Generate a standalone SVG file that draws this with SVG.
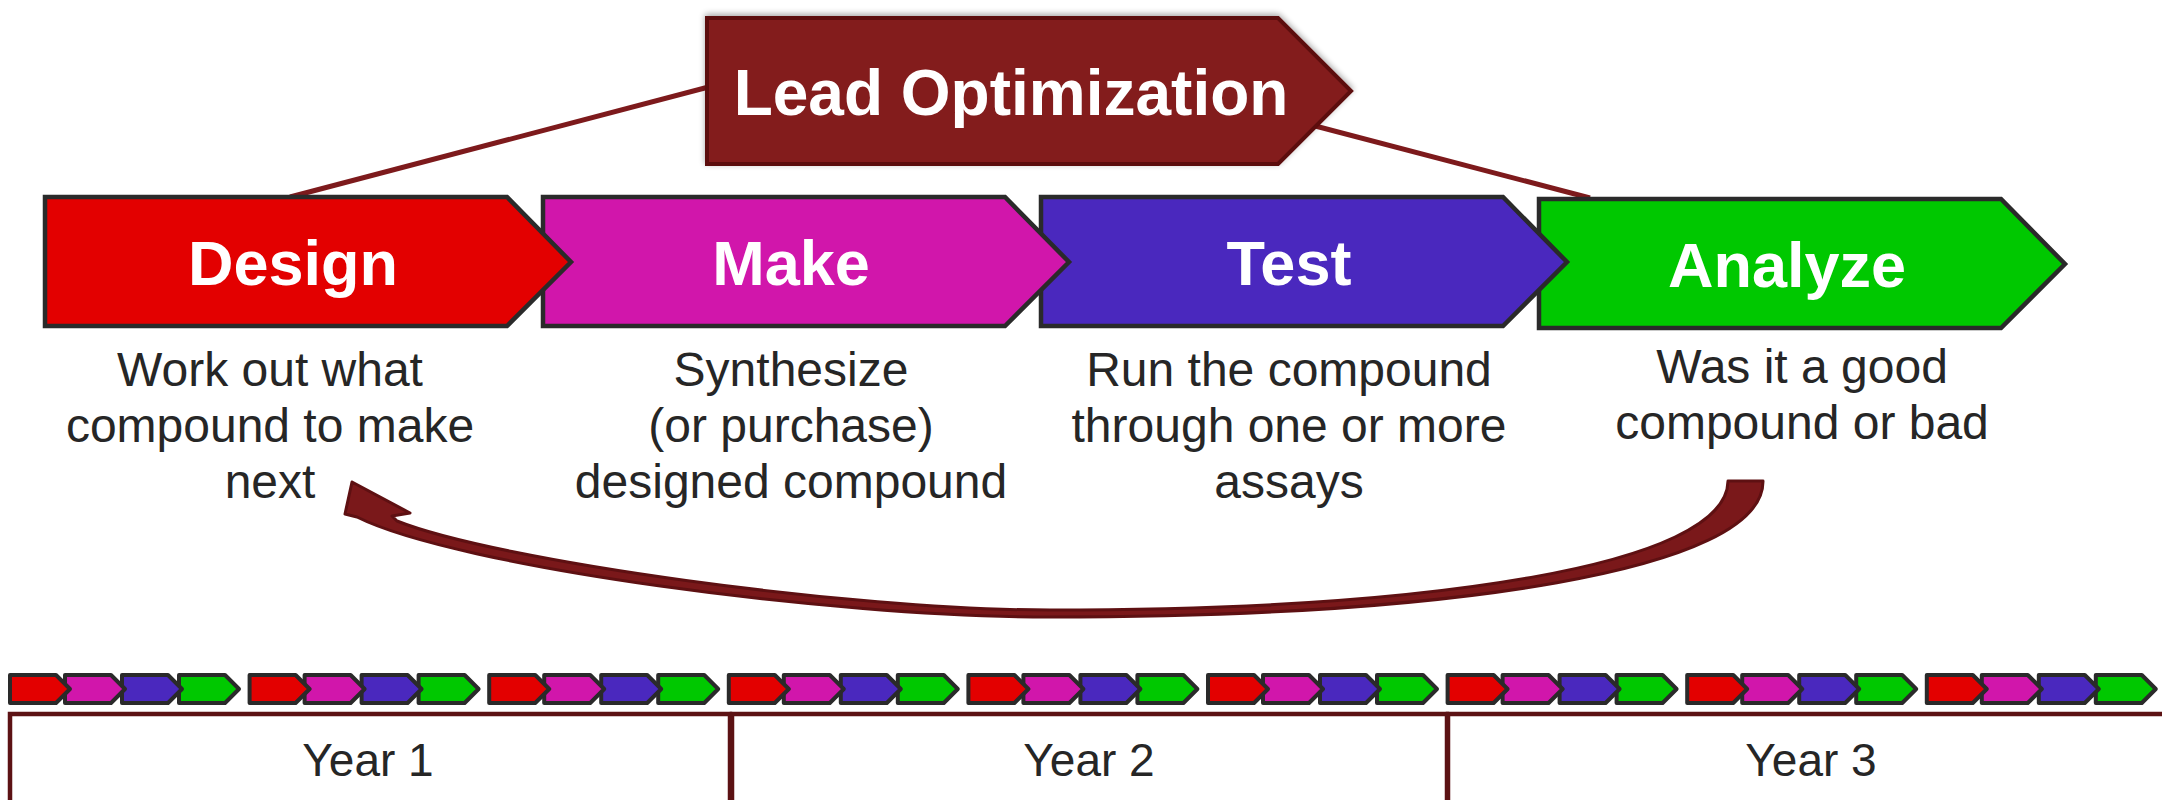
<svg xmlns="http://www.w3.org/2000/svg" xmlns:xlink="http://www.w3.org/1999/xlink" width="2162" height="800" viewBox="0 0 2162 800">
  <style>
    .stage { stroke: #2a2a2a; stroke-width: 4.5; stroke-linejoin: miter; }
    .mini { stroke: #2a2a2a; stroke-width: 4; stroke-linejoin: round; }
    .red { fill: #e30000; }
    .magenta { fill: #d116ab; }
    .purple { fill: #4a28be; }
    .green { fill: #00c800; }
    .title { font-family: "Liberation Sans", Arial, sans-serif; font-weight: bold; fill: #ffffff; text-anchor: middle; }
    .desc { font-family: "Liberation Sans", Arial, sans-serif; font-size: 48px; fill: #262626; text-anchor: middle; }
    .year { font-family: "Liberation Sans", Arial, sans-serif; font-size: 46px; fill: #262626; text-anchor: middle; }
    .link { stroke: #7d1a1c; stroke-width: 5; fill: none; }
    .yearbox { fill: none; stroke: #5c1214; stroke-width: 4.5; }
  </style>
  <defs>
    <!-- large stage chevron, origin at top-left of body -->
    <path id="stageShape" d="M0,0 H462 L526,65 L462,129 H0 Z"/>
    <!-- small chevron for the timeline strip -->
    <path id="miniShape" d="M2,2 H48 L62,16 L48,30 H2 Z"/>
    <filter id="softShadow" x="-5%" y="-20%" width="110%" height="140%">
      <feGaussianBlur in="SourceAlpha" stdDeviation="3"/>
      <feOffset dx="0" dy="-2" result="blur"/>
      <feComponentTransfer><feFuncA type="linear" slope="0.35"/></feComponentTransfer>
      <feMerge><feMergeNode/><feMergeNode in="SourceGraphic"/></feMerge>
    </filter>
  </defs>

  <rect width="2162" height="800" fill="#ffffff"/>

  <!-- connectors from the umbrella box to the cycle ends -->
  <g id="connectors">
    <line class="link" x1="290" y1="197" x2="720" y2="84"/>
    <line class="link" x1="1300" y1="122" x2="1590" y2="198"/>
    <!-- feedback arrow from Analyze back to Design -->
    <path id="feedback" fill="#7a181a" stroke="#5e1012" stroke-width="3" stroke-linejoin="round"
      d="M1728,481 L1763,481
         C1764,571 1450,617 1050,617
         C830,617 457,567 357,517
         L345,514 L352,482 L410,513 L392,516 L397,521
         C497,561 850,610 1050,610
         C1430,610 1727,566 1728,481 Z"/>
  </g>

  <!-- umbrella box -->
  <g id="lead-optimization">
    <path d="M707,18 H1278 L1351,91 L1278,164 H707 Z" fill="#831b1d" stroke="#5c0f10" stroke-width="4" filter="url(#softShadow)"/>
    <text class="title" x="1011" y="115" font-size="64">Lead Optimization</text>
  </g>

  <!-- stages drawn last-to-first so each point overlaps the next stage -->
  <g id="analyze">
    <use href="#stageShape" xlink:href="#stageShape" class="stage green" transform="translate(1539,199)"/>
    <text class="title" x="1787" y="287" font-size="63">Analyze</text>
    <text class="desc" x="1802" y="383">Was it a good</text>
    <text class="desc" x="1802" y="439">compound or bad</text>
  </g>
  <g id="test">
    <use href="#stageShape" xlink:href="#stageShape" class="stage purple" transform="translate(1041,197)"/>
    <text class="title" x="1289" y="285" font-size="63">Test</text>
    <text class="desc" x="1289" y="386">Run the compound</text>
    <text class="desc" x="1289" y="442">through one or more</text>
    <text class="desc" x="1289" y="498">assays</text>
  </g>
  <g id="make">
    <use href="#stageShape" xlink:href="#stageShape" class="stage magenta" transform="translate(543,197)"/>
    <text class="title" x="791" y="285" font-size="63">Make</text>
    <text class="desc" x="791" y="386">Synthesize</text>
    <text class="desc" x="791" y="442">(or purchase)</text>
    <text class="desc" x="791" y="498">designed compound</text>
  </g>
  <g id="design">
    <use href="#stageShape" xlink:href="#stageShape" class="stage red" transform="translate(45,197)"/>
    <text class="title" x="293" y="285" font-size="63">Design</text>
    <text class="desc" x="270" y="386">Work out what</text>
    <text class="desc" x="270" y="442">compound to make</text>
    <text class="desc" x="270" y="498">next</text>
  </g>

  <!-- timeline strip: nine cycles of four steps -->
  <g id="timeline-cycles">
    <g id="cycle-1" transform="translate(8,673)">
      <use href="#miniShape" xlink:href="#miniShape" class="mini green" x="169"/>
      <use href="#miniShape" xlink:href="#miniShape" class="mini purple" x="112"/>
      <use href="#miniShape" xlink:href="#miniShape" class="mini magenta" x="55"/>
      <use href="#miniShape" xlink:href="#miniShape" class="mini red" x="0"/>
    </g>
    <g id="cycle-2" transform="translate(247.6,673)">
      <use href="#miniShape" xlink:href="#miniShape" class="mini green" x="169"/>
      <use href="#miniShape" xlink:href="#miniShape" class="mini purple" x="112"/>
      <use href="#miniShape" xlink:href="#miniShape" class="mini magenta" x="55"/>
      <use href="#miniShape" xlink:href="#miniShape" class="mini red" x="0"/>
    </g>
    <g id="cycle-3" transform="translate(487.2,673)">
      <use href="#miniShape" xlink:href="#miniShape" class="mini green" x="169"/>
      <use href="#miniShape" xlink:href="#miniShape" class="mini purple" x="112"/>
      <use href="#miniShape" xlink:href="#miniShape" class="mini magenta" x="55"/>
      <use href="#miniShape" xlink:href="#miniShape" class="mini red" x="0"/>
    </g>
    <g id="cycle-4" transform="translate(726.8,673)">
      <use href="#miniShape" xlink:href="#miniShape" class="mini green" x="169"/>
      <use href="#miniShape" xlink:href="#miniShape" class="mini purple" x="112"/>
      <use href="#miniShape" xlink:href="#miniShape" class="mini magenta" x="55"/>
      <use href="#miniShape" xlink:href="#miniShape" class="mini red" x="0"/>
    </g>
    <g id="cycle-5" transform="translate(966.4,673)">
      <use href="#miniShape" xlink:href="#miniShape" class="mini green" x="169"/>
      <use href="#miniShape" xlink:href="#miniShape" class="mini purple" x="112"/>
      <use href="#miniShape" xlink:href="#miniShape" class="mini magenta" x="55"/>
      <use href="#miniShape" xlink:href="#miniShape" class="mini red" x="0"/>
    </g>
    <g id="cycle-6" transform="translate(1206,673)">
      <use href="#miniShape" xlink:href="#miniShape" class="mini green" x="169"/>
      <use href="#miniShape" xlink:href="#miniShape" class="mini purple" x="112"/>
      <use href="#miniShape" xlink:href="#miniShape" class="mini magenta" x="55"/>
      <use href="#miniShape" xlink:href="#miniShape" class="mini red" x="0"/>
    </g>
    <g id="cycle-7" transform="translate(1445.6,673)">
      <use href="#miniShape" xlink:href="#miniShape" class="mini green" x="169"/>
      <use href="#miniShape" xlink:href="#miniShape" class="mini purple" x="112"/>
      <use href="#miniShape" xlink:href="#miniShape" class="mini magenta" x="55"/>
      <use href="#miniShape" xlink:href="#miniShape" class="mini red" x="0"/>
    </g>
    <g id="cycle-8" transform="translate(1685.2,673)">
      <use href="#miniShape" xlink:href="#miniShape" class="mini green" x="169"/>
      <use href="#miniShape" xlink:href="#miniShape" class="mini purple" x="112"/>
      <use href="#miniShape" xlink:href="#miniShape" class="mini magenta" x="55"/>
      <use href="#miniShape" xlink:href="#miniShape" class="mini red" x="0"/>
    </g>
    <g id="cycle-9" transform="translate(1924.8,673)">
      <use href="#miniShape" xlink:href="#miniShape" class="mini green" x="169"/>
      <use href="#miniShape" xlink:href="#miniShape" class="mini purple" x="112"/>
      <use href="#miniShape" xlink:href="#miniShape" class="mini magenta" x="55"/>
      <use href="#miniShape" xlink:href="#miniShape" class="mini red" x="0"/>
    </g>
  </g>

  <!-- year scale -->
  <g id="year-1">
    <rect class="yearbox" x="10" y="714" width="720" height="120"/>
    <text class="year" x="368" y="776">Year 1</text>
  </g>
  <g id="year-2">
    <rect class="yearbox" x="732" y="714" width="715" height="120"/>
    <text class="year" x="1089" y="776">Year 2</text>
  </g>
  <g id="year-3">
    <rect class="yearbox" x="1448" y="714" width="730" height="120"/>
    <text class="year" x="1811" y="776">Year 3</text>
  </g>
</svg>
